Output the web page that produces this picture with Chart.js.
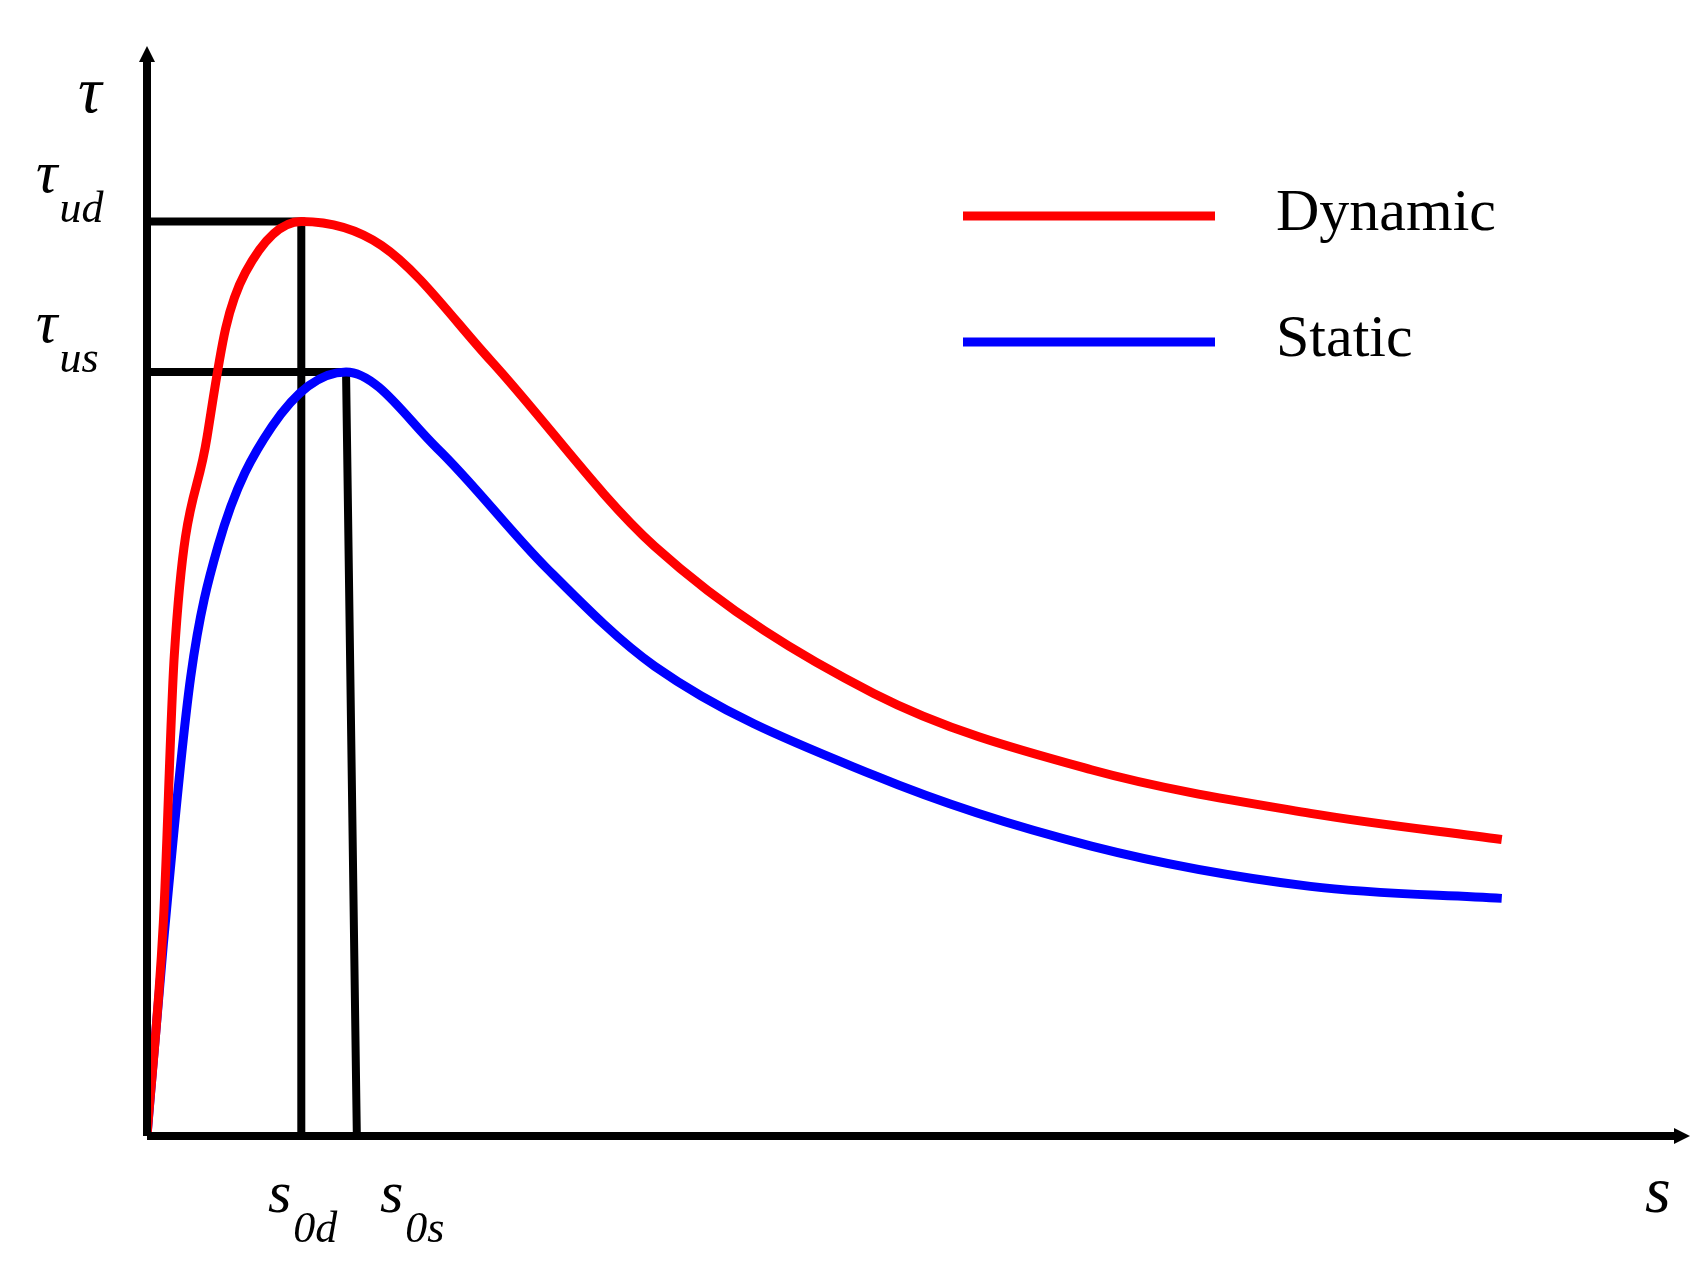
<!DOCTYPE html>
<html>
<head>
<meta charset="utf-8">
<script src="https://cdn.jsdelivr.net/npm/chart.js@4"></script>
<style>
  html,body{margin:0;padding:0;background:#fff;}
  #wrap{width:1704px;height:1279px;}
</style>
</head>
<body>
<div id="wrap"><canvas id="c"></canvas></div>
<script>
// slip s (abstract units) and bond stress tau (abstract units)
const dynamicS = [0, 1.06, 1.77, 3.89, 5.1, 6.37, 10, 15.2, 22.3, 32.9, 47.1, 61.2, 75.4, 87.8];
const dynamicT = [0, 19.6, 44.1, 64.1, 74.1, 79.2, 83.9, 81.7, 71.1, 54.1, 40.6, 33.6, 29.6, 27.2];
const staticS = [0, 1.06, 2.83, 4.6, 8.1, 12.9, 18.8, 25.9, 32.9, 47.1, 61.2, 75.4, 87.8];
const staticT = [0, 17.6, 42.1, 54.1, 65.1, 70.1, 63.1, 52.1, 43.1, 33.1, 26.6, 22.9, 21.8];
const peakDyn = {s: 10, t: 83.9};
const peakSta = {s: 12.9, t: 70.1, sBase: 13.6};
const seriesNames = ["Dynamic", "Static"];

const pts = (xs, ys) => xs.map((x, i) => ({x: x, y: ys[i]}));

const overlay = {
  id: "overlay",
  afterDatasetsDraw(chart){
    const ctx = chart.ctx, xs = chart.scales.x, ys = chart.scales.y;
    const x0 = xs.getPixelForValue(0), y0 = ys.getPixelForValue(0);
    const xEnd = xs.getPixelForValue(100), yTop = ys.getPixelForValue(100);
    ctx.save();
    ctx.strokeStyle = "#000"; ctx.fillStyle = "#000"; ctx.lineWidth = 8;
    ctx.beginPath(); ctx.moveTo(x0, y0); ctx.lineTo(x0, yTop + 12); ctx.stroke();
    ctx.beginPath(); ctx.moveTo(x0, y0); ctx.lineTo(xEnd - 12, y0); ctx.stroke();
    ctx.beginPath(); ctx.moveTo(x0, yTop); ctx.lineTo(x0 - 8, yTop + 16); ctx.lineTo(x0 + 8, yTop + 16); ctx.fill();
    ctx.beginPath(); ctx.moveTo(xEnd, y0); ctx.lineTo(xEnd - 16, y0 - 8); ctx.lineTo(xEnd - 16, y0 + 8); ctx.fill();

    ctx.font = "italic 60px 'Liberation Serif'";
    ctx.textBaseline = "alphabetic";
    const sub = (main, s, x, y) => {
      ctx.font = "italic 60px 'Liberation Serif'";
      ctx.fillText(main, x, y);
      const w = ctx.measureText(main).width;
      ctx.font = "italic 44px 'Liberation Serif'";
      ctx.fillText(s, x + w + 2, y + 30);
    };
    ctx.font = "italic 66px 'Liberation Serif'";
    ctx.fillText("τ", 78, 112);
    sub("τ", "ud", 36, 192);
    sub("τ", "us", 36, 342);
    sub("s", "0d", 268, 1212);
    sub("s", "0s", 380, 1212);
    ctx.font = "italic 66px 'Liberation Serif'";
    ctx.fillText("s", 1645, 1212);

    // legend
    const cols = ["#ff0000", "#0000ff"];
    ctx.lineWidth = 9;
    ctx.font = "60px 'Liberation Serif'";
    seriesNames.forEach((n, i) => {
      const y = 216 + i * 126;
      ctx.strokeStyle = cols[i];
      ctx.beginPath(); ctx.moveTo(963, y); ctx.lineTo(1215, y); ctx.stroke();
      ctx.fillStyle = "#000";
      ctx.textBaseline = "middle";
      ctx.fillText(n, 1276, y - 2);
    });
    ctx.restore();
  }
};

new Chart(document.getElementById("c"), {
  type: "line",
  data: {
    datasets: [
      {label: "guideD", data: [{x:0,y:peakDyn.t},{x:peakDyn.s,y:peakDyn.t},{x:peakDyn.s,y:0}], borderColor:"#000", borderWidth:8, tension:0, order:2},
      {label: "guideS", data: [{x:0,y:peakSta.t},{x:peakSta.s,y:peakSta.t},{x:peakSta.sBase,y:0}], borderColor:"#000", borderWidth:8, tension:0, order:2},
      {label: seriesNames[0], data: pts(dynamicS, dynamicT), borderColor:"#ff0000", borderWidth:9, cubicInterpolationMode:"monotone", order:1},
      {label: seriesNames[1], data: pts(staticS, staticT), borderColor:"#0000ff", borderWidth:9, cubicInterpolationMode:"monotone", order:1}
    ]
  },
  options: {
    responsive: true, maintainAspectRatio: false, animation: false,
    layout: {padding: {left: 147, right: 14, top: 46, bottom: 143}},
    elements: {point: {radius: 0}},
    scales: {
      x: {type: "linear", min: 0, max: 100, display: false},
      y: {min: 0, max: 100, display: false}
    },
    plugins: {legend: {display: false}, tooltip: {enabled: false}}
  },
  plugins: [overlay]
});
</script>
</body>
</html>
